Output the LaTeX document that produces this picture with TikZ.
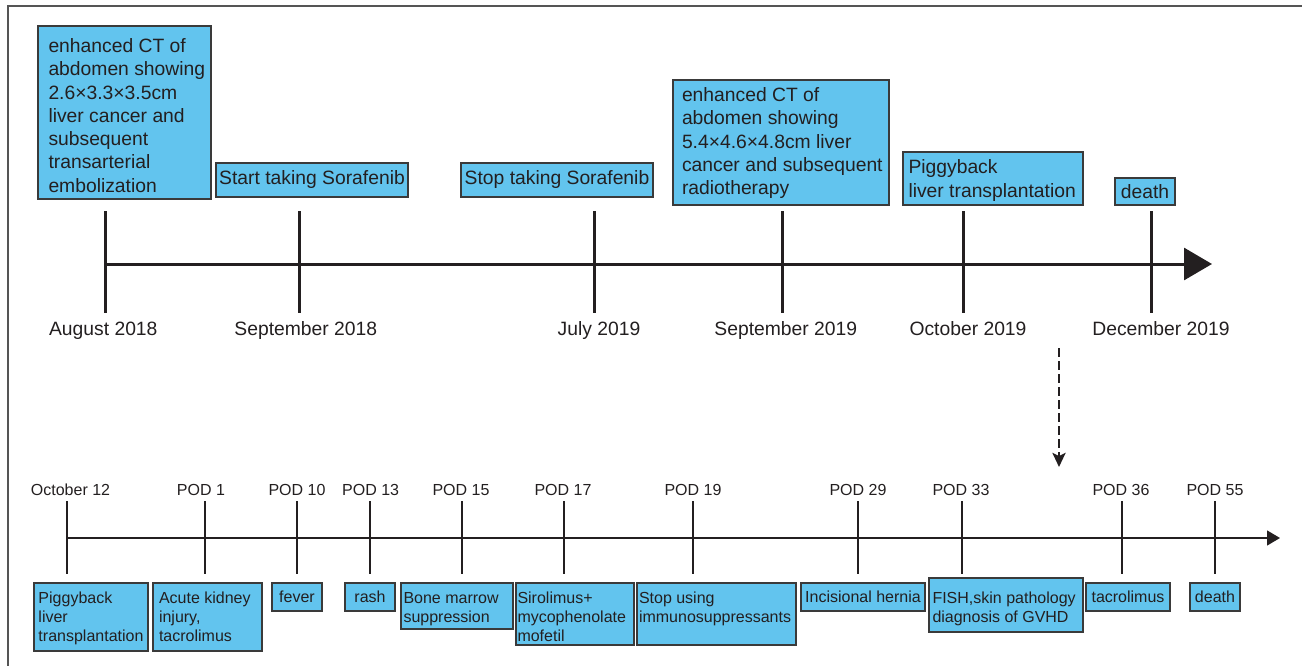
\documentclass[tikz,border=0pt]{standalone}
\usepackage{fontspec}
\setmainfont{Liberation Sans}
\usetikzlibrary{arrows.meta}
\definecolor{boxblue}{HTML}{62C4EE}
\definecolor{ink}{HTML}{231F20}
\definecolor{edgec}{HTML}{3A3A3A}
\definecolor{framec}{HTML}{555555}
% #1 width, #2 height, #3 left pad, #4 first baseline below top, #5 text
\newcommand{\evtxt}[5]{\parbox[c][#2][t]{#1}{\raggedright\leftskip=#3\relax\noindent\rule{0pt}{#4}#5}}
\tikzset{
  big/.style={font=\fontsize{19.3}{23.3}\selectfont, text=ink},
  small/.style={font=\fontsize{16}{19}\selectfont, text=ink},
  evbox/.style={draw=edgec, fill=boxblue, line width=1.3pt, align=left, inner sep=0pt},
  mlbox/.style={draw=edgec, fill=boxblue, line width=1.3pt, inner sep=0pt},
  mainaxis/.style={draw=ink, line width=3pt},
  subaxis/.style={draw=ink, line width=1.4pt},
}
\begin{document}
\begin{tikzpicture}[x=1pt, y=-1pt]
\useasboundingbox (0,0) rectangle (1302,666);
% frame
\coordinate (fbl) at (8,666);
\coordinate (ftl) at (8,6);
\coordinate (ftr) at (1302,6);
\draw[framec, line width=1.6pt] (fbl) -- (ftl) -- (ftr);

% ---------------- top timeline ----------------
\coordinate (ta0) at (105,264);
\coordinate (ta1) at (1212,264);
\draw[mainaxis, -{Triangle[length=28pt,width=32pt]}] (ta0) -- (ta1);
\foreach \n/\x/\lx/\t in {1/105/103.3/August 2018, 2/299/305.8/September 2018, 3/594/599/July 2019, 4/782/785.8/September 2019, 5/963/968/October 2019, 6/1151/1161/December 2019}{
  \coordinate (tt\n) at (\x,211);
  \coordinate (tb\n) at (\x,313);
  \draw[mainaxis] (tt\n) -- (tb\n);
  \node[big, anchor=base, inner sep=0pt] (tl\n) at (\lx,335) {\t};
}

\node[mlbox, big] (e1) at (124.5,112.5)
  {\evtxt{173pt}{173pt}{10.5pt}{26.5pt}{enhanced CT of\\abdomen showing\\2.6×3.3×3.5cm\\liver cancer and\\subsequent\\transarterial\\embolization}};
\node[evbox, big, minimum width=192pt, minimum height=34pt] (e2) at (312,180) {Start taking Sorafenib};
\node[evbox, big, minimum width=192pt, minimum height=34pt] (e3) at (557,180) {Stop taking Sorafenib};
\node[mlbox, big] (e4) at (781,142.5)
  {\evtxt{216pt}{125pt}{9pt}{21.7pt}{enhanced CT of\\abdomen showing\\5.4×4.6×4.8cm liver\\cancer and subsequent\\radiotherapy}};
\node[mlbox, big] (e5) at (993,178.5)
  {\evtxt{180pt}{53pt}{5.5pt}{22pt}{Piggyback\\liver transplantation}};
\node[evbox, big, minimum width=60pt, minimum height=27pt] (e6) at (1145,191.5) {death};

% dashed link
\coordinate (d0) at (1059,348);
\coordinate (d1) at (1059,467);
\draw[draw=ink, line width=2.6pt, dash pattern=on 9pt off 4pt, -{Stealth[length=14pt,width=13pt,inset=3pt]}] (d0) -- (d1);

% ---------------- bottom timeline ----------------
\coordinate (ba0) at (67,538);
\coordinate (ba1) at (1280,538);
\draw[subaxis, -{Triangle[length=13pt,width=15pt]}] (ba0) -- (ba1);
\foreach \n/\x/\lx/\t in {1/67/70.5/October 12, 2/205/201/POD 1, 3/297/297/POD 10, 4/370/370.7/POD 13, 5/462/461/POD 15, 6/564/563/POD 17, 7/693/693/POD 19, 8/858/858/POD 29, 9/962/961/POD 33, 10/1122/1121/POD 36, 11/1215/1215/POD 55}{
  \coordinate (st\n) at (\x,501);
  \coordinate (sb\n) at (\x,574);
  \draw[subaxis] (st\n) -- (sb\n);
  \node[small, anchor=base, inner sep=0pt] (sl\n) at (\lx,495.7) {\t};
}

\node[mlbox, small] (p1) at (91,617) {\evtxt{114pt}{68pt}{4.5pt}{20.3pt}{Piggyback\\liver\\transplantation}};
\node[mlbox, small] (p2) at (207.5,617) {\evtxt{109pt}{68pt}{6pt}{20.3pt}{Acute kidney\\injury,\\tacrolimus}};
\node[evbox, small, minimum width=50pt, minimum height=28pt] (p3) at (297,597) {fever};
\node[evbox, small, minimum width=50pt, minimum height=28pt] (p4) at (370,597) {rash};
\node[mlbox, small] (p5) at (457,606) {\evtxt{112pt}{46pt}{2.5pt}{20.3pt}{Bone marrow\\suppression}};
\node[mlbox, small] (p6) at (575,614) {\evtxt{118pt}{62pt}{1.5pt}{20.3pt}{Sirolimus+\\mycophenolate\\mofetil}};
\node[mlbox, small] (p7) at (716.5,614) {\evtxt{159pt}{62pt}{2pt}{20.3pt}{Stop using\\immunosuppressants}};
\node[evbox, small, minimum width=124pt, minimum height=28pt] (p8) at (863,597) {Incisional hernia};
\node[mlbox, small] (p9) at (1006,605) {\evtxt{154pt}{54pt}{3.5pt}{25.7pt}{FISH,skin pathology\\diagnosis of GVHD}};
\node[evbox, small, minimum width=84pt, minimum height=28pt] (p10) at (1128,597) {tacrolimus};
\node[evbox, small, minimum width=50pt, minimum height=28pt] (p11) at (1215,597) {death};
\end{tikzpicture}
\end{document}
